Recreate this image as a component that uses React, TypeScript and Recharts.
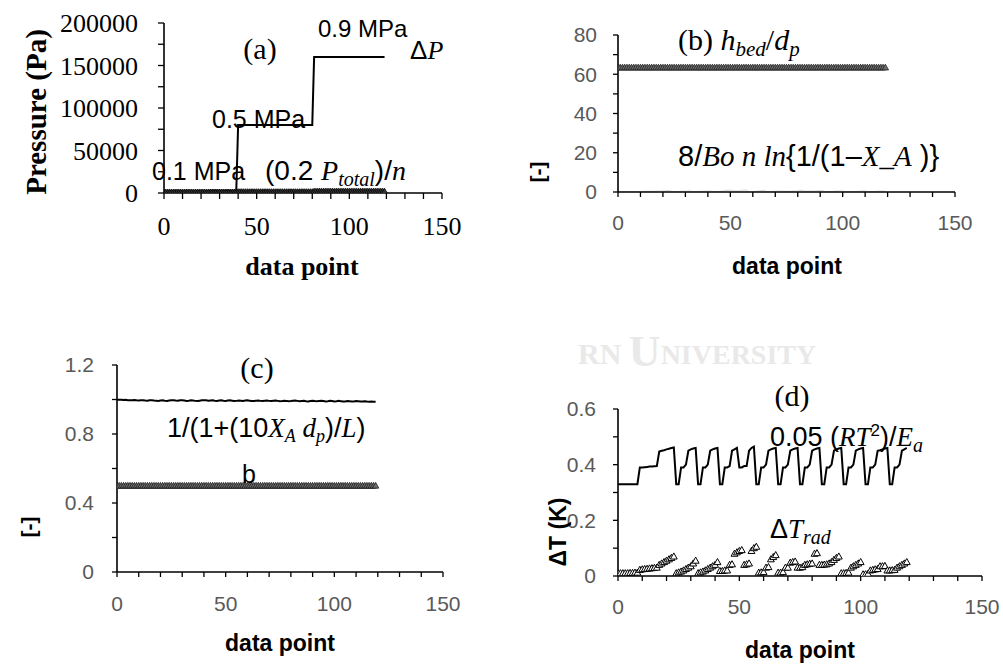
import React from 'react';
import { ComposedChart, Line, XAxis, YAxis } from 'recharts';

// ---------- data ----------
const dataPoint = [
  0, 1, 2, 3, 4, 5, 6, 7, 8, 9, 10, 11, 12, 13, 14, 15, 16, 17, 18, 19,
  20, 21, 22, 23, 24, 25, 26, 27, 28, 29, 30, 31, 32, 33, 34, 35, 36, 37, 38, 39,
  40, 41, 42, 43, 44, 45, 46, 47, 48, 49, 50, 51, 52, 53, 54, 55, 56, 57, 58, 59,
  60, 61, 62, 63, 64, 65, 66, 67, 68, 69, 70, 71, 72, 73, 74, 75, 76, 77, 78, 79,
  80, 81, 82, 83, 84, 85, 86, 87, 88, 89, 90, 91, 92, 93, 94, 95, 96, 97, 98, 99,
  100, 101, 102, 103, 104, 105, 106, 107, 108, 109, 110, 111, 112, 113, 114, 115, 116, 117, 118, 119,
];

// (a) pressure drop ΔP (Pa)
const deltaP = [
  1500, 1500, 1500, 1500, 1500, 1500, 1500, 1500, 1500, 1500, 1500, 1500,
  1500, 1500, 1500, 1500, 1500, 1500, 1500, 1500, 1500, 1500, 1500, 1500,
  2700, 2700, 2700, 2700, 2700, 2700, 2700, 2700, 2700, 2700, 2700, 2700, 2700, 2700, 2700, 2700,
  80000, 80000, 80000, 80000, 80000, 80000, 80000, 80000, 80000, 80000, 80000,
  80000, 80000, 80000, 80000, 80000, 80000, 80000, 80000, 80000, 80000, 80000,
  80000, 80000, 80000, 80000, 80000, 80000, 80000, 80000, 80000, 80000, 80000,
  80000, 80000, 80000, 80000, 80000, 80000, 80000, 80000,
  160000, 160000, 160000, 160000, 160000, 160000, 160000, 160000, 160000, 160000,
  160000, 160000, 160000, 160000, 160000, 160000, 160000, 160000, 160000, 160000,
  160000, 160000, 160000, 160000, 160000, 160000, 160000, 160000, 160000, 160000,
  160000, 160000, 160000, 160000, 160000, 160000, 160000, 160000, 160000,
];

// (a) (0.2 P_total)/n (Pa)
const pTotalOverN = [
  400, 400, 400, 400, 400, 400, 400, 400, 400, 400, 400, 400, 400, 400, 400, 400, 400, 400, 400, 400,
  400, 400, 400, 400, 400, 400, 400, 400, 400, 400, 400, 400, 400, 400, 400, 400, 400, 400, 400, 400,
  800, 800, 800, 800, 800, 800, 800, 800, 800, 800, 800, 800, 800, 800, 800, 800, 800, 800, 800, 800,
  800, 800, 800, 800, 800, 800, 800, 800, 800, 800, 800, 800, 800, 800, 800, 800, 800, 800, 800, 800, 800,
  1400, 1400, 1400, 1400, 1400, 1400, 1400, 1400, 1400, 1400, 1400, 1400, 1400,
  1400, 1400, 1400, 1400, 1400, 1400, 1400, 1400, 1400, 1400, 1400, 1400, 1400,
  1400, 1400, 1400, 1400, 1400, 1400, 1400, 1400, 1400, 1400, 1400, 1400, 1400,
];

// (b) h_bed/d_p
const hBedOverDp = [
  63.4, 63.4, 63.4, 63.4, 63.4, 63.4, 63.4, 63.4, 63.4, 63.4, 63.4, 63.4, 63.4, 63.4, 63.4, 63.4, 63.4, 63.4, 63.4, 63.4,
  63.4, 63.4, 63.4, 63.4, 63.4, 63.4, 63.4, 63.4, 63.4, 63.4, 63.4, 63.4, 63.4, 63.4, 63.4, 63.4, 63.4, 63.4, 63.4, 63.4,
  63.4, 63.4, 63.4, 63.4, 63.4, 63.4, 63.4, 63.4, 63.4, 63.4, 63.4, 63.4, 63.4, 63.4, 63.4, 63.4, 63.4, 63.4, 63.4, 63.4,
  63.4, 63.4, 63.4, 63.4, 63.4, 63.4, 63.4, 63.4, 63.4, 63.4, 63.4, 63.4, 63.4, 63.4, 63.4, 63.4, 63.4, 63.4, 63.4, 63.4,
  63.4, 63.4, 63.4, 63.4, 63.4, 63.4, 63.4, 63.4, 63.4, 63.4, 63.4, 63.4, 63.4, 63.4, 63.4, 63.4, 63.4, 63.4, 63.4, 63.4,
  63.4, 63.4, 63.4, 63.4, 63.4, 63.4, 63.4, 63.4, 63.4, 63.4, 63.4, 63.4, 63.4, 63.4, 63.4, 63.4, 63.4, 63.4, 63.4, 63.4,
];

// (b) 8/Bo n ln{1/(1-X_A)}
const boCriterion = [
  0.1, 0.1, 0.1, 0.1, 0.1, 0.1, 0.1, 0.1, 0.1,
  0.2, 0.2, 0.2, 0.3, 0.3, 0.3, 0.3, 0.3,
  0.4, 0.5, 0.5, 0.6, 0.6, 0.7, 0.7,
  0.1, 0.1, 0.2, 0.2, 0.3, 0.3, 0.4, 0.5, 0.6,
  0.1, 0.1, 0.2, 0.2, 0.3, 0.3, 0.4, 0.4, 0.5,
  0.2, 0.2, 0.2, 0.2, 0.4, 0.4, 0.8, 0.8, 0.9, 0.9, 0.4, 0.4, 0.5, 0.9, 1.0, 1.0,
  0.1, 0.1, 0.1, 0.3, 0.3, 0.6, 0.7, 0.8,
  0.1, 0.1, 0.1, 0.3, 0.3, 0.5, 0.5, 0.5, 0.3, 0.3, 0.3, 0.4, 0.4, 0.4, 0.5, 0.8, 0.8,
  0.4, 0.4, 0.4, 0.4, 0.5, 0.5, 0.6, 0.7, 0.7,
  0.1, 0.1, 0.1, 0.1, 0.3, 0.4, 0.4, 0.5, 0.5,
  0.1, 0.1, 0.1, 0.2, 0.2, 0.2, 0.3, 0.4, 0.4, 0.4,
  0.2, 0.2, 0.2, 0.2, 0.3, 0.4, 0.4, 0.5, 0.5,
];

// (c) 1/(1+(10 X_A d_p)/L)
const wallCriterion = [
  0.999, 0.998, 0.998, 0.997, 0.998, 0.996, 0.995, 0.996, 0.997, 0.995,
  0.994, 0.995, 0.996, 0.994, 0.993, 0.995, 0.996, 0.994, 0.993, 0.992,
  0.994, 0.995, 0.993, 0.992, 0.994, 0.995, 0.996, 0.994, 0.993, 0.995,
  0.996, 0.994, 0.992, 0.993, 0.995, 0.994, 0.992, 0.991, 0.993, 0.995,
  0.996, 0.995, 0.993, 0.994, 0.995, 0.993, 0.992, 0.994, 0.995, 0.993,
  0.992, 0.994, 0.995, 0.993, 0.991, 0.992, 0.994, 0.993, 0.992, 0.994,
  0.995, 0.993, 0.991, 0.992, 0.993, 0.994, 0.992, 0.991, 0.993, 0.994,
  0.992, 0.991, 0.993, 0.994, 0.992, 0.990, 0.991, 0.993, 0.992, 0.990,
  0.991, 0.993, 0.994, 0.992, 0.990, 0.991, 0.992, 0.990, 0.989, 0.991,
  0.993, 0.991, 0.990, 0.992, 0.993, 0.991, 0.989, 0.990, 0.992, 0.991,
  0.989, 0.990, 0.992, 0.990, 0.988, 0.989, 0.991, 0.990, 0.988, 0.989,
  0.991, 0.990, 0.988, 0.989, 0.990, 0.988, 0.987, 0.988, 0.987, 0.987,
];

// (c) b
const bValue = [
  0.5, 0.5, 0.5, 0.5, 0.5, 0.5, 0.5, 0.5, 0.5, 0.5, 0.5, 0.5, 0.5, 0.5, 0.5, 0.5, 0.5, 0.5, 0.5, 0.5,
  0.5, 0.5, 0.5, 0.5, 0.5, 0.5, 0.5, 0.5, 0.5, 0.5, 0.5, 0.5, 0.5, 0.5, 0.5, 0.5, 0.5, 0.5, 0.5, 0.5,
  0.5, 0.5, 0.5, 0.5, 0.5, 0.5, 0.5, 0.5, 0.5, 0.5, 0.5, 0.5, 0.5, 0.5, 0.5, 0.5, 0.5, 0.5, 0.5, 0.5,
  0.5, 0.5, 0.5, 0.5, 0.5, 0.5, 0.5, 0.5, 0.5, 0.5, 0.5, 0.5, 0.5, 0.5, 0.5, 0.5, 0.5, 0.5, 0.5, 0.5,
  0.5, 0.5, 0.5, 0.5, 0.5, 0.5, 0.5, 0.5, 0.5, 0.5, 0.5, 0.5, 0.5, 0.5, 0.5, 0.5, 0.5, 0.5, 0.5, 0.5,
  0.5, 0.5, 0.5, 0.5, 0.5, 0.5, 0.5, 0.5, 0.5, 0.5, 0.5, 0.5, 0.5, 0.5, 0.5, 0.5, 0.5, 0.5, 0.5, 0.5,
];

// (d) 0.05 (R T^2)/E_a  (K)
const thermalCriterion = [
  0.33, 0.33, 0.33, 0.33, 0.33, 0.33, 0.33, 0.33, 0.33,
  0.39, 0.39, 0.391, 0.392, 0.393, 0.393, 0.394, 0.395,
  0.447, 0.45, 0.452, 0.455, 0.457, 0.46, 0.462,
  0.33, 0.33, 0.39, 0.39, 0.40, 0.45, 0.455, 0.458, 0.46,
  0.33, 0.33, 0.39, 0.39, 0.40, 0.45, 0.455, 0.458, 0.46,
  0.33, 0.33, 0.39, 0.39, 0.395, 0.45, 0.455, 0.46, 0.39, 0.39, 0.395, 0.395, 0.45, 0.46, 0.465,
  0.33, 0.33, 0.39, 0.39, 0.40, 0.45, 0.455, 0.458, 0.46,
  0.33, 0.33, 0.39, 0.39, 0.40, 0.45, 0.455, 0.458, 0.46,
  0.33, 0.33, 0.39, 0.39, 0.40, 0.45, 0.455, 0.458, 0.46,
  0.33, 0.33, 0.39, 0.39, 0.40, 0.45, 0.455, 0.458, 0.46,
  0.33, 0.33, 0.39, 0.39, 0.40, 0.45, 0.455, 0.458, 0.46,
  0.33, 0.33, 0.39, 0.39, 0.40, 0.45, 0.452, 0.455, 0.458, 0.46,
  0.33, 0.33, 0.39, 0.39, 0.40, 0.45, 0.455, 0.46,
];

// (d) ΔT_rad (K)
const deltaTrad = [
  0.01, 0.01, 0.01, 0.01, 0.01, 0.011, 0.011, 0.012, 0.012,
  0.022, 0.024, 0.025, 0.026, 0.027, 0.028, 0.029, 0.03,
  0.04, 0.045, 0.05, 0.055, 0.06, 0.065, 0.07,
  0.01, 0.013, 0.016, 0.02, 0.025, 0.03, 0.035, 0.045, 0.055,
  0.01, 0.013, 0.016, 0.02, 0.025, 0.03, 0.035, 0.04, 0.05,
  0.018, 0.018, 0.02, 0.02, 0.04, 0.042, 0.08, 0.085, 0.09, 0.093, 0.04, 0.042, 0.045, 0.09, 0.1, 0.105,
  0.012, 0.013, 0.014, 0.03, 0.032, 0.06, 0.068, 0.075,
  0.012, 0.012, 0.014, 0.03, 0.03, 0.048, 0.05, 0.052, 0.03, 0.03, 0.032, 0.04, 0.042, 0.044, 0.045, 0.08, 0.082,
  0.04, 0.04, 0.041, 0.042, 0.045, 0.05, 0.058, 0.065, 0.07,
  0.01, 0.01, 0.011, 0.012, 0.03, 0.035, 0.04, 0.045, 0.05,
  0.006, 0.006, 0.008, 0.02, 0.022, 0.024, 0.025, 0.035, 0.035, 0.036,
  0.02, 0.02, 0.021, 0.022, 0.03, 0.035, 0.04, 0.045, 0.05,
];

// ticks
const xTicks = [0, 10, 20, 30, 40, 50, 60, 70, 80, 90, 100, 110, 120, 130, 140, 150];
const xLabels = [0, 50, 100, 150];
const yTicksA = [0, 25000, 50000, 75000, 100000, 125000, 150000, 175000, 200000];
const yLabelsA = [0, 50000, 100000, 150000, 200000];
const yTicksB = [0, 10, 20, 30, 40, 50, 60, 70, 80];
const yLabelsB = [0, 20, 40, 60, 80];
const yTicksC = [0, 0.2, 0.4, 0.6, 0.8, 1.0, 1.2];
const yLabelsC = [0, 0.4, 0.8, 1.2];
const yTicksD = [0, 0.1, 0.2, 0.3, 0.4, 0.5, 0.6];
const yLabelsD = [0, 0.2, 0.4, 0.6];

// tables built from the arrays
const rowsA = dataPoint.map((x, i) => ({ x, dp: deltaP[i], pt: pTotalOverN[i] }));
const rowsB = dataPoint.map((x, i) => ({ x, h: hBedOverDp[i], bo: boCriterion[i] }));
const rowsC = dataPoint.map((x, i) => ({ x, w: wallCriterion[i], b: bValue[i] }));
const rowsD = dataPoint.map((x, i) => ({ x, t: thermalCriterion[i], r: deltaTrad[i] }));

// ---------- styling helpers ----------
const SERIF = "'Liberation Serif', 'Times New Roman', serif";
const SANS = "'Liberation Sans', Arial, sans-serif";

const fmt = (labels: number[]) => (v: number) =>
  labels.some((l) => Math.abs(l - v) < 1e-9) ? String(v) : '';

const tri = (size: number, fill: string, stroke: string, sw: number) => (props: any) => {
  const { cx, cy, index } = props;
  if (cx == null || cy == null || isNaN(cx) || isNaN(cy)) return <g key={`e${index}`} />;
  const d = `M${cx},${cy - size}L${cx + size * 0.95},${cy + size * 0.7}L${cx - size * 0.95},${cy + size * 0.7}Z`;
  return <path key={`t${index}`} d={d} fill={fill} stroke={stroke} strokeWidth={sw} />;
};

type PanelProps = {
  left: number; top: number; width: number; height: number;
  plot: { left: number; right: number; top: number; bottom: number };
  rows: any[];
  yDomain: [number, number];
  yTicks: number[]; yLabels: number[];
  font: string; fontSize: number; color: string;
  yMargin: number; xMargin: number; tickSize: number;
  children: any;
};

function Panel(p: PanelProps) {
  const tickStyle = { fontFamily: p.font, fontSize: p.fontSize, fill: p.color };
  return (
    <div style={{ position: 'absolute', left: p.left, top: p.top, width: p.width, height: p.height }}>
      <ComposedChart
        width={p.width}
        height={p.height}
        data={p.rows}
        margin={{ top: p.plot.top, right: p.width - p.plot.right, left: 0, bottom: 0 }}
      >
        <XAxis
          dataKey="x"
          type="number"
          domain={[0, 150]}
          ticks={xTicks}
          interval={0}
          tickFormatter={fmt(xLabels)}
          height={p.height - p.plot.bottom}
          tickSize={p.tickSize}
          tickMargin={p.xMargin}
          axisLine={{ stroke: '#000', strokeWidth: 1.6 }}
          tickLine={{ stroke: '#000', strokeWidth: 1.3 }}
          tick={tickStyle}
          allowDataOverflow
        />
        <YAxis
          type="number"
          domain={p.yDomain}
          ticks={p.yTicks}
          interval={0}
          tickFormatter={fmt(p.yLabels)}
          width={p.plot.left}
          tickSize={p.tickSize}
          tickMargin={p.yMargin}
          axisLine={{ stroke: '#000', strokeWidth: 1.6 }}
          tickLine={{ stroke: '#000', strokeWidth: 1.3 }}
          tick={tickStyle}
          allowDataOverflow
        />
        {p.children}
      </ComposedChart>
    </div>
  );
}

export default function App() {
  const mathI = { fontFamily: SERIF, fontStyle: 'italic' as const };
  return (
    <div style={{ position: 'absolute', left: 0, top: 0, width: 1003, height: 664, background: '#fff', overflow: 'hidden' }}>
      {/* watermark */}
      <svg width={1003} height={664} style={{ position: 'absolute', left: 0, top: 0 }}>
        <text x={578} y={364} fontFamily={SERIF} fontWeight="bold" fontSize={30} fill="#e9e9e9">
          RN <tspan fontSize={44} dy={2}>U</tspan><tspan fontSize={28} dy={-2}>NIVERSITY</tspan>
        </text>
      </svg>

      {/* (a) */}
      <Panel left={0} top={0} width={500} height={300}
        plot={{ left: 164, right: 442, top: 23, bottom: 193 }}
        rows={rowsA} yDomain={[0, 200000]} yTicks={yTicksA} yLabels={yLabelsA}
        font={SERIF} fontSize={26} color="#000" yMargin={20} xMargin={18} tickSize={6}>
        <Line dataKey="pt" type="linear" stroke="none" isAnimationActive={false} activeDot={false}
          dot={tri(3.6, '#3a3a3a', '#000', 0.8)} />
        <Line dataKey="dp" type="linear" stroke="#000" strokeWidth={2} dot={false} isAnimationActive={false} activeDot={false} />
      </Panel>

      {/* (b) */}
      <Panel left={500} top={0} width={503} height={300}
        plot={{ left: 118, right: 455, top: 35, bottom: 192 }}
        rows={rowsB} yDomain={[0, 80]} yTicks={yTicksB} yLabels={yLabelsB}
        font={SANS} fontSize={21} color="#595959" yMargin={16} xMargin={18} tickSize={5}>
        <Line dataKey="bo" type="linear" stroke="#dcdcdc" strokeWidth={1.2} dot={false} isAnimationActive={false} activeDot={false} />
        <Line dataKey="h" type="linear" stroke="none" isAnimationActive={false} activeDot={false}
          dot={tri(3.4, '#6e6e6e', '#111', 0.7)} />
      </Panel>

      {/* (c) */}
      <Panel left={0} top={330} width={500} height={334}
        plot={{ left: 117, right: 443, top: 35, bottom: 242 }}
        rows={rowsC} yDomain={[0, 1.2]} yTicks={yTicksC} yLabels={yLabelsC}
        font={SANS} fontSize={21} color="#595959" yMargin={18} xMargin={19} tickSize={5}>
        <Line dataKey="w" type="linear" stroke="#000" strokeWidth={2} dot={false} isAnimationActive={false} activeDot={false} />
        <Line dataKey="b" type="linear" stroke="none" isAnimationActive={false} activeDot={false}
          dot={tri(3.4, '#6e6e6e', '#111', 0.7)} />
      </Panel>

      {/* (d) */}
      <Panel left={500} top={330} width={503} height={334}
        plot={{ left: 118, right: 482, top: 79, bottom: 246 }}
        rows={rowsD} yDomain={[0, 0.6]} yTicks={yTicksD} yLabels={yLabelsD}
        font={SANS} fontSize={21} color="#595959" yMargin={17} xMargin={18} tickSize={5}>
        <Line dataKey="t" type="linear" stroke="#000" strokeWidth={2} dot={false} isAnimationActive={false} activeDot={false} />
        <Line dataKey="r" type="linear" stroke="none" isAnimationActive={false} activeDot={false}
          dot={tri(3.6, '#fff', '#000', 1)} />
      </Panel>

      {/* annotations */}
      <svg width={1003} height={664} style={{ position: 'absolute', left: 0, top: 0, pointerEvents: 'none' }}>
        {/* (a) */}
        <text x={36} y={112} transform="rotate(-90 36 112)" textAnchor="middle" dominantBaseline="central"
          fontFamily={SERIF} fontWeight="bold" fontSize={29}>Pressure (Pa)</text>
        <text x={302} y={275} textAnchor="middle" fontFamily={SERIF} fontWeight="bold" fontSize={26}>data point</text>
        <text x={260} y={59} textAnchor="middle" fontFamily={SERIF} fontSize={30}>(a)</text>
        <text x={318} y={37} fontFamily={SANS} fontSize={24}>0.9 MPa</text>
        <text x={410} y={59} fontSize={26}>
          <tspan fontFamily={SANS}>Δ</tspan><tspan {...mathI}>P</tspan>
        </text>
        <text x={212} y={128} fontFamily={SANS} fontSize={25}>0.5 MPa</text>
        <text x={152} y={180} fontFamily={SANS} fontSize={25}>0.1 MPa</text>
        <text x={265} y={180} fontSize={28}>
          <tspan fontFamily={SANS}>(0.2 </tspan><tspan {...mathI}>P</tspan>
          <tspan {...mathI} fontSize={20} dy={6}>total</tspan>
          <tspan fontFamily={SANS} dy={-6}>)/</tspan><tspan {...mathI}>n</tspan>
        </text>

        {/* (b) */}
        <text x={537} y={172} transform="rotate(-90 537 172)" textAnchor="middle" dominantBaseline="central"
          fontFamily={SANS} fontWeight="bold" fontSize={21}>[-]</text>
        <text x={787} y={274} textAnchor="middle" fontFamily={SANS} fontWeight="bold" fontSize={23}>data point</text>
        <text x={678} y={50} fontSize={30}>
          <tspan fontFamily={SERIF}>(b) </tspan><tspan {...mathI}>h</tspan>
          <tspan {...mathI} fontSize={21} dy={6}>bed</tspan>
          <tspan fontFamily={SERIF} dy={-6}>/</tspan><tspan {...mathI}>d</tspan>
          <tspan {...mathI} fontSize={21} dy={6}>p</tspan>
        </text>
        <text x={678} y={166} fontSize={29}>
          <tspan fontFamily={SANS}>8/</tspan><tspan {...mathI}>Bo</tspan><tspan {...mathI}>{'  n ln'}</tspan>
          <tspan fontFamily={SANS}>{'{1/(1–'}</tspan><tspan {...mathI}>X_A</tspan>
          <tspan fontFamily={SANS}>{' )}'}</tspan>
        </text>

        {/* (c) */}
        <text x={28} y={527} transform="rotate(-90 28 527)" textAnchor="middle" dominantBaseline="central"
          fontFamily={SANS} fontWeight="bold" fontSize={21}>[-]</text>
        <text x={280} y={651} textAnchor="middle" fontFamily={SANS} fontWeight="bold" fontSize={23}>data point</text>
        <text x={257} y={378} textAnchor="middle" fontFamily={SERIF} fontSize={30}>(c)</text>
        <text x={167} y={437} fontSize={27}>
          <tspan fontFamily={SANS}>1/(1+(10</tspan><tspan {...mathI}>X</tspan>
          <tspan {...mathI} fontSize={18} dy={5}>A</tspan>
          <tspan {...mathI} dy={-5}>{' d'}</tspan>
          <tspan {...mathI} fontSize={18} dy={5}>p</tspan>
          <tspan fontFamily={SANS} dy={-5}>)/</tspan><tspan {...mathI}>L</tspan>
          <tspan fontFamily={SANS}>)</tspan>
        </text>
        <text x={242} y={483} fontFamily={SANS} fontSize={25}>b</text>

        {/* (d) */}
        <text x={558} y={532} transform="rotate(-90 558 532)" textAnchor="middle" dominantBaseline="central"
          fontFamily={SANS} fontWeight="bold" fontSize={23}>ΔT (K)</text>
        <text x={800} y={658} textAnchor="middle" fontFamily={SANS} fontWeight="bold" fontSize={23}>data point</text>
        <text x={792} y={406} textAnchor="middle" fontFamily={SERIF} fontSize={30}>(d)</text>
        <text x={770} y={446} fontSize={27}>
          <tspan fontFamily={SANS}>0.05 (</tspan><tspan {...mathI}>RT</tspan>
          <tspan fontFamily={SANS} fontSize={17} dy={-10}>2</tspan>
          <tspan fontFamily={SANS} dy={10}>)/</tspan><tspan {...mathI}>E</tspan>
          <tspan {...mathI} fontSize={20} dy={6}>a</tspan>
        </text>
        <text x={770} y={538} fontSize={27}>
          <tspan fontFamily={SANS}>Δ</tspan><tspan {...mathI}>T</tspan>
          <tspan {...mathI} fontSize={20} dy={6}>rad</tspan>
        </text>
      </svg>
    </div>
  );
}
